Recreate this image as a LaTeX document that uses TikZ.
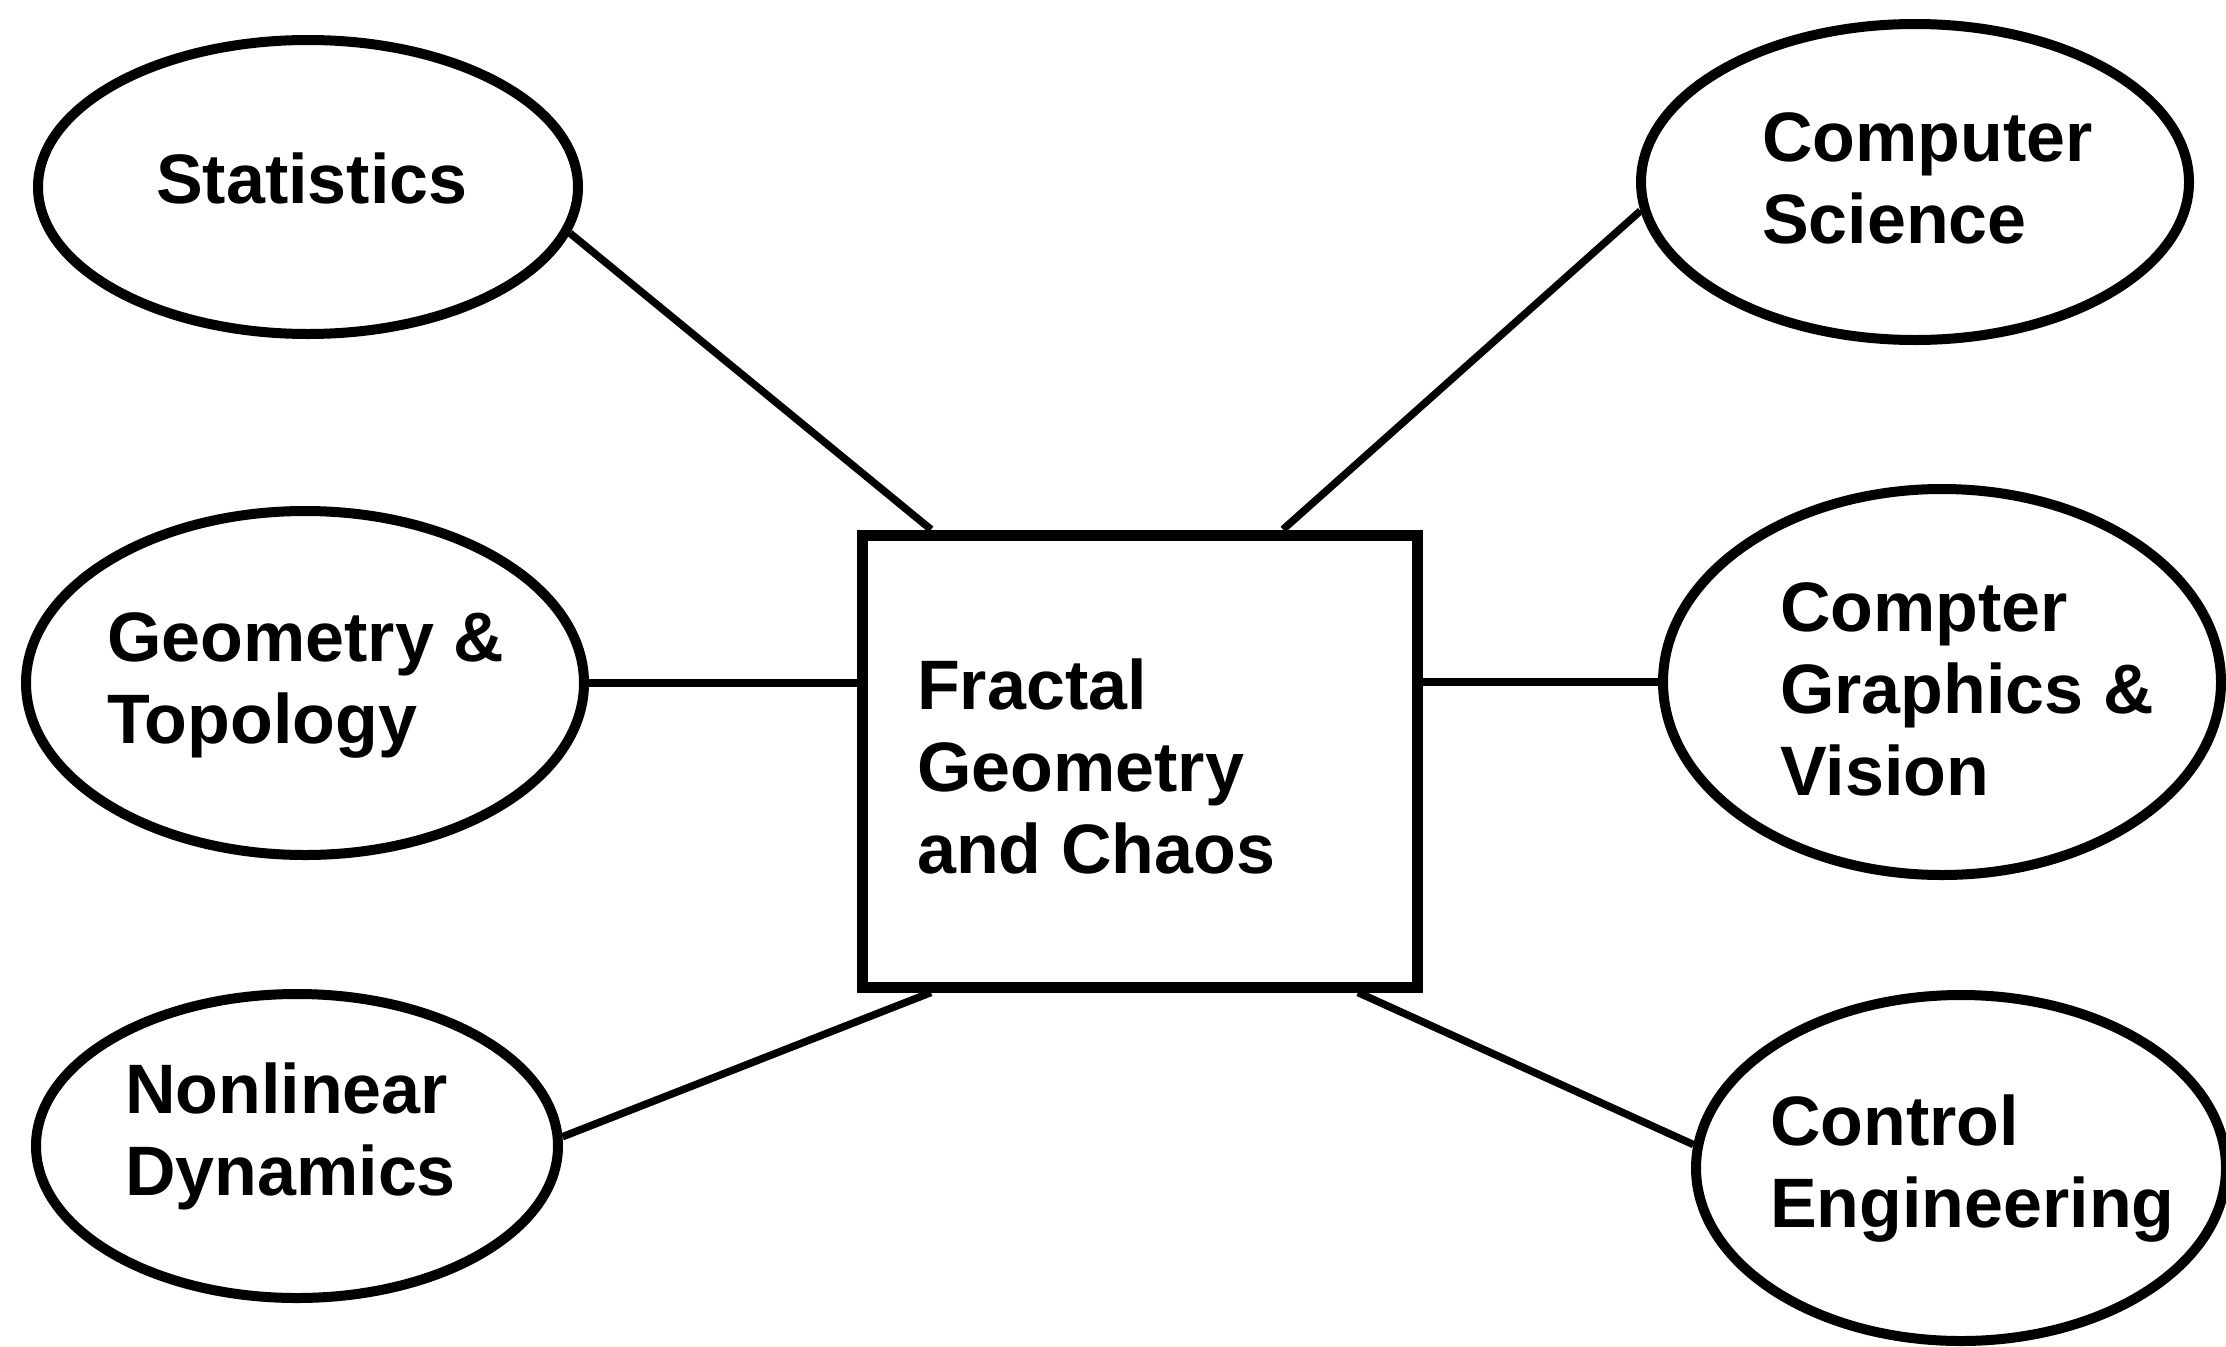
\documentclass[tikz,border=0pt]{standalone}
\usepackage{fontspec}
\setmainfont{Liberation Sans}
\usetikzlibrary{shapes.geometric}
\begin{document}
\begin{tikzpicture}[x=1pt,y=-1pt,
  field/.style={draw, line width=10pt, ellipse, inner sep=0pt},
  hub/.style={draw, line width=11pt, rectangle, inner sep=0pt, minimum width=555pt, minimum height=452pt},
  txt/.style={anchor=base west, inner sep=0pt, align=left, font=\bfseries\fontsize{70}{82}\selectfont},
  link/.style={line width=7.5pt}]
\useasboundingbox (0,0) rectangle (2226,1346);
% central box
\node[hub] (box) at (1140,761) {};
\node[txt] (boxT) at (917,873) {Fractal\\Geometry\\and Chaos};
% ellipses
\node[field, minimum width=540pt, minimum height=294pt] (stat) at (308,187) {};
\node[txt] (statT) at (156,203) {Statistics};
\node[field, minimum width=548pt, minimum height=316pt] (cs) at (1915,182) {};
\node[txt] (csT) at (1762,243) {Computer\\Science};
\node[field, minimum width=558pt, minimum height=344pt] (geo) at (305,683) {};
\node[txt] (geoT) at (107,743) {Geometry \&\\Topology};
\node[field, minimum width=558pt, minimum height=386pt] (gr) at (1942,682) {};
\node[txt] (grT) at (1780,795) {Compter\\Graphics \&\\Vision};
\node[field, minimum width=522pt, minimum height=304pt] (nl) at (297,1146) {};
\node[txt] (nlT) at (125,1195) {Nonlinear\\Dynamics};
\node[field, minimum width=530pt, minimum height=346pt] (ctrl) at (1961,1168) {};
\node[txt] (ctrlT) at (1770,1227) {Control\\Engineering};
% connectors
\draw[link] (stat.-10) -- ([xshift=74pt]box.north west);
\draw[link] (cs.186) -- ([xshift=-140pt]box.north east);
\draw[link] (geo.east) -- (box.west |- geo.east);
\draw[link] (gr.west) -- (box.east |- gr.west);
\draw[link] (nl.2) -- ([xshift=74pt]box.south west);
\draw[link] (ctrl.175) -- ([xshift=-65pt]box.south east);
\end{tikzpicture}
\end{document}
